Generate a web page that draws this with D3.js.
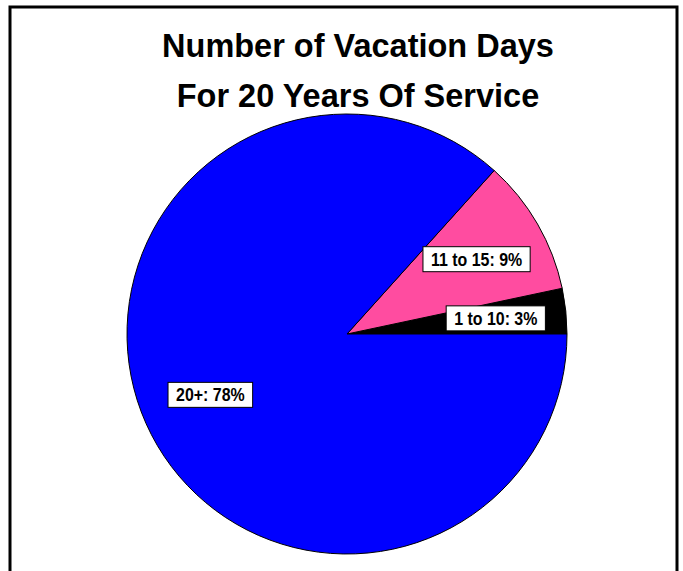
<!DOCTYPE html>
<html>
<head>
<meta charset="utf-8">
<script src="https://cdn.jsdelivr.net/npm/d3@7"></script>
<style>
  body { margin: 0; background: #fff; }
  text { font-family: "Liberation Sans", Arial, sans-serif; font-weight: bold; }
</style>
</head>
<body>
<div id="chart"></div>
<script>
var categories = ["1 to 10", "11 to 15", "20+"]
var values = [3, 9, 78]
var percentLabels = ["3%", "9%", "78%"]
var colors = ["#000000", "#ff4ca0", "#0000ff"]
var titleLines = ["Number of Vacation Days", "For 20 Years Of Service"]

var width = 683, height = 571
var cx = 347, cy = 334, R = 220

var svg = d3.select("#chart").append("svg")
    .attr("width", width)
    .attr("height", height)

// frame
svg.append("path")
    .attr("d", "M10," + height + "V7H677V" + height)
    .attr("fill", "none")
    .attr("stroke", "#000")
    .attr("stroke-width", 3)

// squeeze text a bit, the original font is narrower
function narrow(sel, k) {
    sel.each(function () {
        var len = this.getComputedTextLength()
        d3.select(this).attr("textLength", len * k).attr("lengthAdjust", "spacingAndGlyphs")
    })
}

svg.selectAll(".title")
    .data(titleLines)
    .enter().append("text")
    .attr("class", "title")
    .attr("x", 358)
    .attr("y", function (d, i) { return 57 + i * 50 })
    .attr("text-anchor", "middle")
    .attr("font-size", 33.5)
    .text(function (d) { return d })
    .call(narrow, 0.97)

var data = categories.map(function (c, i) {
    return { cat: c, value: values[i], pct: percentLabels[i], color: colors[i] }
})

// counterclockwise from 3 o'clock
var pie = d3.pie()
    .sort(null)
    .value(function (d) { return d.value })
    .startAngle(Math.PI / 2)
    .endAngle(Math.PI / 2 - 2 * Math.PI)

var arc = d3.arc().innerRadius(0).outerRadius(R)
var labelArc = d3.arc().innerRadius(R * 0.68).outerRadius(R * 0.68)

var g = svg.append("g").attr("transform", "translate(" + cx + "," + cy + ")")

var arcs = pie(data)

g.selectAll("path.slice")
    .data(arcs)
    .enter().append("path")
    .attr("class", "slice")
    .attr("d", arc)
    .attr("fill", function (d) { return d.data.color })
    .attr("stroke", "#000")
    .attr("stroke-width", 1)

var labels = g.selectAll("g.label")
    .data(arcs)
    .enter().append("g")
    .attr("class", "label")
    .attr("transform", function (d) { return "translate(" + labelArc.centroid(d) + ")" })

labels.append("text")
    .attr("text-anchor", "middle")
    .attr("dy", 6.3)
    .attr("font-size", 17.5)
    .text(function (d) { return d.data.cat + ": " + d.data.pct })
    .call(narrow, 0.91)

labels.each(function () {
    var t = d3.select(this).select("text")
    var w = +t.attr("textLength")
    d3.select(this).insert("rect", "text")
        .attr("x", -w / 2 - 8)
        .attr("y", -12.5)
        .attr("width", w + 16)
        .attr("height", 25)
        .attr("fill", "#fff")
        .attr("stroke", "#000")
        .attr("stroke-width", 1)
})
</script>
</body>
</html>
